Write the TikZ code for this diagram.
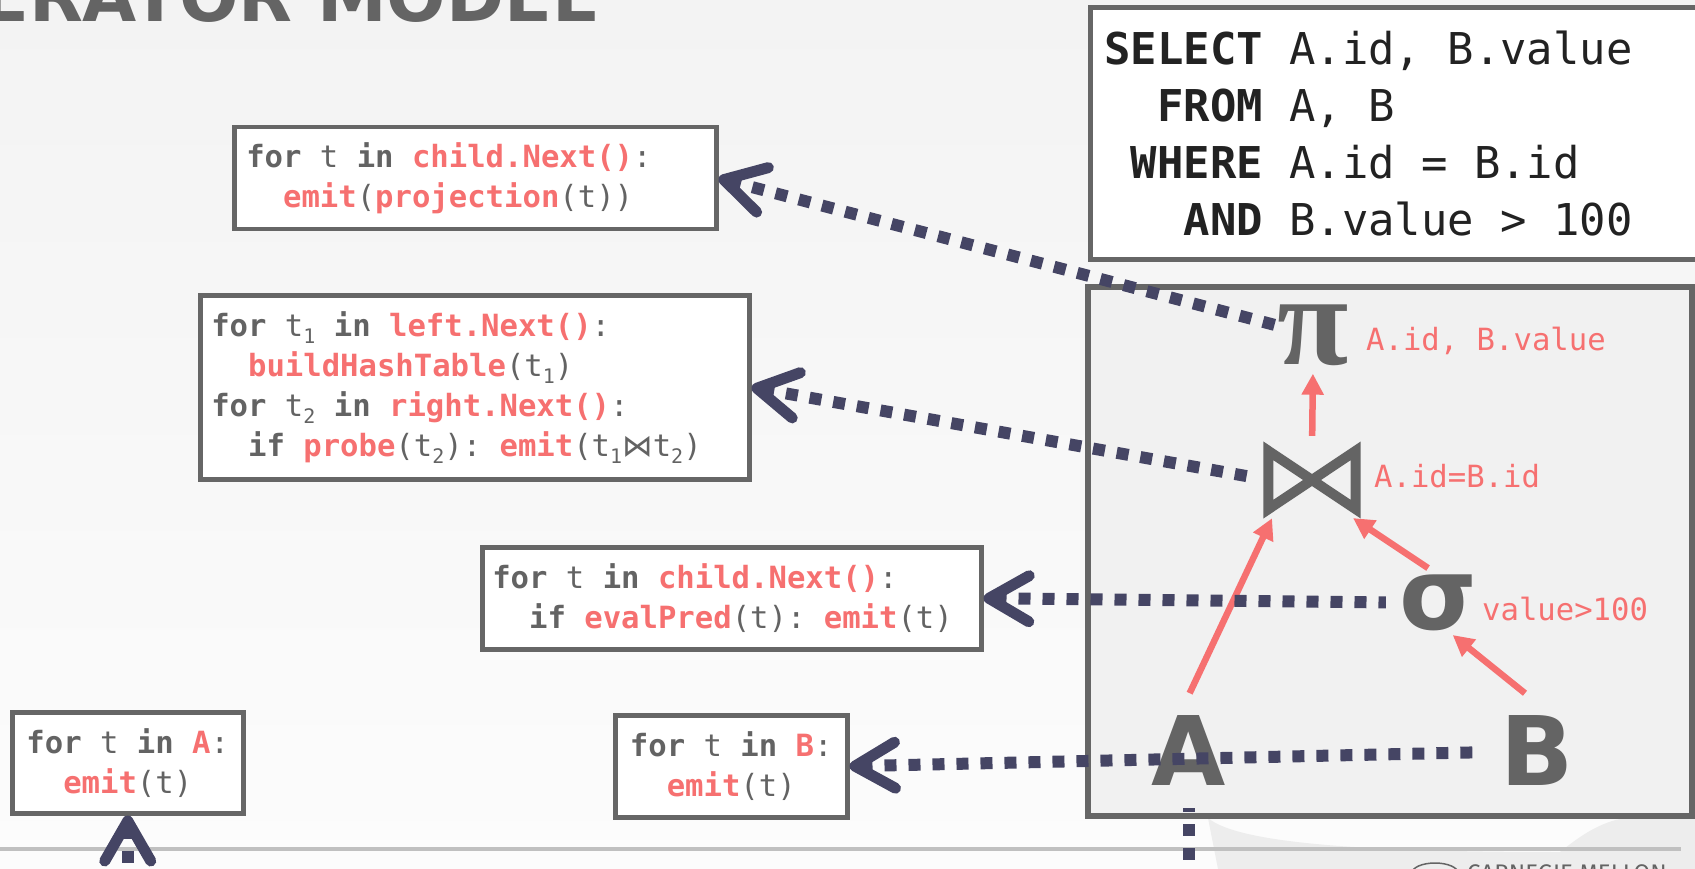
\documentclass[tikz,border=0pt]{standalone}
\usepackage{fontspec}
\setmainfont{DejaVu Sans}
\newfontfamily\codefont{DejaVu Sans Mono}
\newfontfamily\serifsym{Liberation Serif}
\newfontfamily\dvsans{DejaVu Sans}
\newfontfamily\footfont{Fira Sans}
\usetikzlibrary{arrows.meta}

\definecolor{opred}{RGB}{246,112,112}
\definecolor{symgray}{RGB}{100,100,100}
\definecolor{textgray}{RGB}{99,99,99}
\definecolor{boxgray}{RGB}{102,102,102}
\definecolor{navy}{RGB}{69,69,100}
\definecolor{sqlblack}{RGB}{34,34,34}
\definecolor{framefill}{RGB}{241,241,241}
\definecolor{bgtop}{RGB}{243,243,243}
\definecolor{bgbot}{RGB}{252,252,252}
\definecolor{footgray}{RGB}{192,192,192}
\definecolor{markgray}{RGB}{237,237,237}

\newcommand{\kw}[1]{\textbf{#1}}
\newcommand{\fn}[1]{\textcolor{opred}{\textbf{#1}}}
\newcommand{\tsub}[1]{\raisebox{-7pt}{\fontsize{20}{20}\selectfont #1}}
\newcommand{\ind}{\hphantom{xx}}
\newcommand{\sk}{\hphantom{x}}
\newcommand{\monosize}[2]{\fontsize{#1}{#2}\selectfont}

\tikzset{
  codebox/.style={draw=boxgray, line width=4.5pt, fill=white, anchor=north west,
    inner ysep=0pt, text=textgray, font=\codefont\monosize{30.6}{40}},
  sqlbox/.style={draw=boxgray, line width=5pt, fill=white, anchor=north west,
    inner xsep=14pt, inner ysep=0pt, align=left, text=sqlblack,
    font=\codefont\monosize{43.85}{56.7}},
  opsym/.style={text=symgray, inner sep=0pt},
  leaf/.style={text=symgray, inner sep=0pt, font=\bfseries\fontsize{96}{96}\selectfont},
  oplabel/.style={anchor=base west, inner sep=0pt, text=opred,
    font=\codefont\monosize{30.6}{36}},
  redflow/.style={draw=opred, line width=6.5pt, arrows={Triangle[length=21pt,width=21pt]-}},
  nextcall/.style={draw=navy, line width=12pt, dash pattern=on 12pt off 12pt,
    arrows={Straight Barb[length=40pt,width=46pt,line width=11pt,round]-}}
}

\begin{document}
\begin{tikzpicture}[x=1pt, y=-1pt]
  \useasboundingbox (0,0) rectangle (1695,869);
  \shade[top color=bgtop, bottom color=bgbot] (0,0) rectangle (1695,869);
  \fill[markgray] (1208,818) .. controls (1240,845) and (1380,852) .. (1560,852)
    .. controls (1580,836) and (1600,822) .. (1625,818) -- (1695,818) -- (1695,869) -- (1218,869) -- cycle;
  \draw[footgray, line width=4pt] (0,849) -- (1681,849);
  \draw[symgray, line width=1.5pt] (1435,873) ellipse [x radius=23pt, y radius=10pt];
  \node[anchor=north west, inner sep=0pt, text=symgray, font=\footfont\fontsize{24}{24}\selectfont] at (1467,864) (cmu) {CARNEGIE MELLON};

  \node[anchor=base west, inner sep=0pt, text=symgray, font=\bfseries\fontsize{70}{70}\selectfont] at (-19,22) (title) {ERATOR MODEL};

  \node[sqlbox, minimum width=640pt, minimum height=252pt, text width=612pt] at (1088,5) (query)
    {\kw{SELECT}\sk A.id,\sk B.value\\
     \hphantom{SE}\kw{FROM}\sk A,\sk B\\
     \hphantom{S}\kw{WHERE}\sk A.id\sk=\sk B.id\\
     \hphantom{SEL}\kw{AND}\sk B.value\sk>\sk100};

  \draw[draw=boxgray, line width=6pt, fill=framefill] (1088,287) rectangle (1692,816);

  \node[codebox, inner xsep=12pt, minimum width=482pt, minimum height=102pt, text width=458pt, align=left] at (232,125) (projbox)
    {\kw{for}\sk t\sk\kw{in}\sk\fn{child.Next()}:\\
     \ind\fn{emit}(\fn{projection}(t))};
  \node[codebox, inner xsep=11pt, minimum width=549pt, minimum height=184pt, text width=527pt, align=left] at (198,293) (joinbox)
    {\kw{for}\sk t\tsub{1}\sk\kw{in}\sk\fn{left.Next()}:\\
     \ind\fn{buildHashTable}(t\tsub{1})\\
     \kw{for}\sk t\tsub{2}\sk\kw{in}\sk\fn{right.Next()}:\\
     \ind\kw{if}\sk\fn{probe}(t\tsub{2}):\sk\fn{emit}(t\tsub{1}{\dvsans ⋈}t\tsub{2})};
  \node[codebox, inner xsep=10pt, minimum width=499pt, minimum height=102pt, text width=479pt, align=left] at (480,545) (filterbox)
    {\kw{for}\sk t\sk\kw{in}\sk\fn{child.Next()}:\\
     \ind\kw{if}\sk\fn{evalPred}(t):\sk\fn{emit}(t)};
  \node[codebox, inner xsep=12pt, minimum width=231pt, minimum height=101pt, text width=207pt, align=center] at (10,710) (Abox)
    {\kw{for}\sk t\sk\kw{in}\sk\fn{A}:\\ \fn{emit}(t)};
  \node[codebox, inner xsep=12pt, minimum width=232pt, minimum height=102pt, text width=208pt, align=center] at (613,713) (Bbox)
    {\kw{for}\sk t\sk\kw{in}\sk\fn{B}:\\ \fn{emit}(t)};

  \node[opsym, font=\serifsym\bfseries\fontsize{130}{130}\selectfont] at (1313,335) (pi) {π};
  \node[opsym, minimum width=87pt, minimum height=58pt] at (1312,480) (join) {};
  \draw[symgray, line width=10pt, line join=miter] (join.north west) -- (join.south west) -- (join.north east) -- (join.south east) -- cycle;
  \node[opsym, font=\bfseries\fontsize{100}{100}\selectfont] at (1438,603) (sigma) {σ};
  \node[leaf] at (1189,751) (A) {A};
  \node[leaf] at (1537,751) (B) {B};

  \node[oplabel] at (1366,350) (pilabel) {A.id,\sk B.value};
  \node[oplabel] at (1374,487) (joinlabel) {A.id=B.id};
  \node[oplabel] at (1482,620) (sigmalabel) {value>100};

  \draw[redflow, shorten <=8pt, shorten >=15pt] (pi.south) -- (join.north);
  \draw[redflow, shorten <=10pt, shorten >=25pt] ([xshift=8pt]join.south west) -- ([xshift=-10pt]A.north);
  \draw[redflow, shorten <=16pt, shorten >=12pt] ([xshift=-16pt]join.south east) -- (sigma.north);
  \draw[redflow, shorten <=6pt, shorten >=36pt] ([xshift=10pt]sigma.south) -- ([xshift=16pt]B.north);

  \draw[nextcall] (projbox.east) -- (pi);
  \draw[nextcall, shorten >=19pt] (joinbox.east) -- (join.west);
  \draw[nextcall, shorten >=13pt] (filterbox.east) -- (sigma);
  \draw[nextcall, shorten >=26pt] (Bbox.east) -- (B);
  \draw[nextcall, shorten >=22pt] (Abox.south) -- ++(0,85) -| (A.south);
\end{tikzpicture}
\end{document}
